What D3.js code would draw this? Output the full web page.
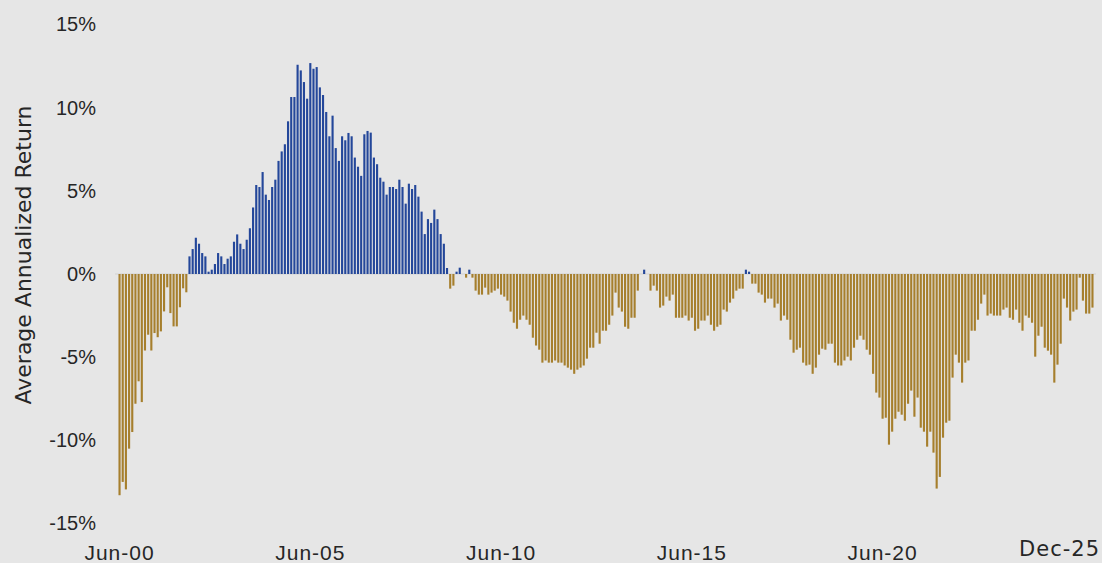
<!DOCTYPE html>
<html lang="en">
<head>
<meta charset="utf-8" />
<style>
    body { margin: 0; background: #e6e6e6; }
    svg { display: block; font-family: "DejaVu Sans", sans-serif; }
    .axis text { fill: #262626; font-size: 20px; }
    .xaxis text { fill: #262626; font-size: 21px; letter-spacing: 1px; }
    .title { fill: #262626; font-size: 22px; }
</style>
</head>
<body>
<svg width="1102" height="563"></svg>
<script src="https://cdn.jsdelivr.net/npm/d3@7"></script>
<script>

    // monthly bars, Jun-00 .. Dec-25
    var firstMonth = new Date(2000, 5, 1),
        lastMonth = new Date(2025, 11, 1);

    var yTicks = [-15, -10, -5, 0, 5, 10, 15];
    var xTickLabels = ["Jun-00", "Jun-05", "Jun-10", "Jun-15", "Jun-20"];
    var endLabel = "Dec-25";
    var yTitle = "Average Annualized Return";

    // average annualized return, % (one value per month)
    var returns = [
        -13.3, -12.5, -12.95, -10.5, -9.5, -7.8, -6.45, -7.7, -4.6, -3.65, -4.6, -3.55,
        -3.8, -3.45, -2.25, -0.8, -2.35, -3.15, -3.15, -2.0, -0.86, -1.1, 1.06, 1.5,
        2.18, 1.82, 1.26, 1.06, 0.14, 0.26, 0.6, 1.26, 1.06, 0.6, 0.92, 1.06,
        1.94, 2.38, 1.82, 1.5, 2.06, 2.75, 4.0, 5.35, 5.23, 6.13, 4.77, 4.45,
        5.23, 5.67, 6.8, 7.37, 7.8, 9.18, 10.64, 10.64, 12.58, 12.24, 11.54, 10.54,
        12.68, 12.34, 12.44, 11.22, 10.76, 9.74, 8.28, 9.52, 7.57, 6.8, 8.28, 8.04,
        8.48, 8.28, 7.0, 6.45, 5.9, 8.4, 8.6, 8.5, 7.0, 6.6, 5.79, 5.55,
        4.77, 5.23, 5.23, 5.11, 5.67, 5.23, 4.23, 5.43, 5.11, 5.35, 4.65, 3.75,
        2.4, 3.3, 3.07, 3.87, 3.3, 2.4, 1.82, 0.36, -0.88, -0.7, 0.14, 0.38,
        0, -0.22, 0.26, -0.22, -1.0, -1.24, -1.24, -0.82, -1.24, -1.12, -1.0, -0.88,
        -1.24, -1.36, -1.6, -2.26, -2.93, -3.29, -2.75, -2.5, -2.75, -3.05, -3.83, -4.3,
        -4.55, -5.33, -5.2, -5.33, -5.33, -5.2, -5.33, -5.33, -5.5, -5.63, -5.75, -6.0,
        -5.75, -5.63, -5.5, -5.09, -4.43, -4.43, -3.53, -4.19, -3.41, -3.41, -3.05, -2.5,
        -1.12, -2.02, -2.26, -3.17, -3.29, -2.63, -2.63, -1.0, 0, 0.26, 0, -1.0,
        -0.7, -1.0, -2.02, -1.9, -1.36, -1.6, -1.24, -2.63, -2.63, -2.63, -2.5, -2.8,
        -2.63, -3.41, -3.29, -2.8, -2.8, -2.5, -3.05, -3.41, -3.17, -3.05, -2.14, -2.26,
        -1.72, -1.48, -1.0, -0.88, -0.88, 0.26, 0.14, -0.58, -0.58, -1.12, -1.24, -1.72,
        -1.48, -1.48, -2.02, -1.78, -2.8, -2.5, -2.75, -3.95, -4.73, -4.55, -4.43, -5.33,
        -5.5, -5.45, -6.0, -5.63, -4.85, -4.49, -4.55, -4.19, -4.19, -5.33, -5.5, -5.5,
        -5.2, -4.97, -5.2, -4.43, -3.95, -3.71, -3.95, -4.55, -4.85, -6.0, -7.13, -7.43,
        -8.7, -8.64, -10.26, -9.48, -8.7, -8.28, -8.46, -8.82, -7.8, -7.01, -8.58, -7.43,
        -9.24, -9.48, -10.38, -9.48, -10.74, -12.9, -12.2, -9.84, -8.94, -8.82, -6.23, -4.85,
        -5.33, -6.53, -5.33, -5.2, -3.41, -3.41, -2.75, -1.78, -1.24, -2.5, -2.38, -2.5,
        -2.5, -2.5, -2.14, -2.02, -2.63, -2.75, -2.14, -2.93, -3.41, -2.5, -2.63, -2.93,
        -4.97, -3.71, -3.17, -4.43, -4.61, -4.85, -6.53, -5.45, -4.19, -1.48, -2.02, -2.8,
        -2.26, -2.14, -0.22, -1.6, -2.38, -2.38, -2.02
    ];

    var fmt = d3.timeFormat("%b-%y");
    var months = d3.timeMonth.range(firstMonth, d3.timeMonth.offset(lastMonth, 1)).map(fmt);

    var data = months.map(function(m, i) { return { month: m, value: returns[i] }; });

    var svg = d3.select("svg");

    var x = d3.scaleBand()
        .domain(months)
        .range([118, 1094])
        .paddingInner(0.33)
        .paddingOuter(0.15);

    var y = d3.scaleLinear()
        .domain([-15, 15])
        .range([523.5, 24.5]);

    // zero line
    svg.append("line")
        .attr("x1", 115)
        .attr("x2", 1096)
        .attr("y1", y(0))
        .attr("y2", y(0))
        .attr("stroke", "#dcdcdc")
        .attr("stroke-width", 2);

    svg.append("g")
        .selectAll("rect")
        .data(data)
        .enter()
        .append("rect")
        .attr("x", function(d) { return x(d.month); })
        .attr("width", x.bandwidth())
        .attr("y", function(d) { return y(Math.max(0, d.value)); })
        .attr("height", function(d) { return Math.abs(y(d.value) - y(0)); })
        .attr("fill", function(d) { return d.value >= 0 ? "#24479a" : "#a67f2d"; });

    var yAxis = svg.append("g")
        .attr("class", "axis")
        .attr("transform", "translate(96,0)")
        .call(d3.axisLeft(y).tickValues(yTicks).tickSize(0).tickPadding(0)
            .tickFormat(function(d) { return d + "%"; }));
    yAxis.select(".domain").remove();
    yAxis.selectAll("text").attr("font-family", null).attr("font-size", null);

    var xAxis = svg.append("g")
        .attr("class", "xaxis")
        .attr("transform", "translate(0," + y(-15) + ")")
        .call(d3.axisBottom(x).tickValues(xTickLabels).tickSize(0).tickPadding(22));
    xAxis.select(".domain").remove();
    xAxis.selectAll("text").attr("font-family", null).attr("font-size", null);

    svg.append("text")
        .attr("x", 1100)
        .attr("y", 556)
        .attr("text-anchor", "end")
        .style("fill", "#262626")
        .style("font-size", "21px")
        .style("letter-spacing", "1px")
        .text(endLabel);

    svg.append("text")
        .attr("class", "title")
        .attr("transform", "translate(31,255) rotate(-90)")
        .attr("text-anchor", "middle")
        .text(yTitle);

</script>
</body>
</html>
